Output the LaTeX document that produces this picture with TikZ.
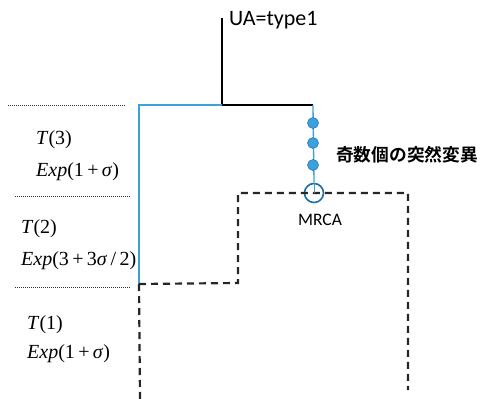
\documentclass[tikz,border=0pt]{standalone}
\usepackage{fontspec}
\setmainfont{Liberation Serif}
\newfontfamily\labfont{Carlito}
\newfontfamily\jpfont{Noto Sans CJK JP}[BoldFont={Noto Sans CJK JP Bold}]
\definecolor{lblue}{RGB}{60,160,220}
\definecolor{dblue}{RGB}{30,110,170}
\tikzset{
  dotline/.style={densely dotted, line width=1pt, black!80},
  dashline/.style={dash pattern=on 7pt off 5pt, line width=2.2pt, black!85},
  blueline/.style={lblue, line width=1.3pt},
  blkline/.style={black, line width=2.2pt},
  mut/.style={circle, fill=lblue, draw=dblue, line width=0.5pt, minimum size=11pt, inner sep=0pt},
  mrcacirc/.style={circle, draw=dblue, line width=1.6pt, minimum size=19pt, inner sep=0pt},
  tlab/.style={anchor=base west, font=\fontsize{20}{22}\selectfont, inner sep=0pt}
}
\begin{document}
\begin{tikzpicture}[x=1pt,y=-1pt]
\useasboundingbox (0,0) rectangle (480,399);
% coordinates
\coordinate (top) at (222,18);
\coordinate (root) at (222,105);
\coordinate (lb) at (139,105);
\coordinate (rb) at (313,105);
\coordinate (lend) at (139,284);
\coordinate (step1) at (238,283);
\coordinate (step2) at (238,193);
\coordinate (rstep) at (408,193);
\coordinate (rbot) at (408,390);
\coordinate (lbot) at (140,399);
% dotted separators
\coordinate (d1a) at (8,105); \coordinate (d1b) at (126,105);
\coordinate (d2a) at (15,196); \coordinate (d2b) at (130,196);
\coordinate (d3a) at (15,287); \coordinate (d3b) at (130,287);
\draw[dotline] (d1a) -- (d1b);
\draw[dotline] (d2a) -- (d2b);
\draw[dotline] (d3a) -- (d3b);
% MRCA
\node[mrcacirc] (mrca) at (314,193) {};
% tree
\draw[blkline] (top) -- (root) -- (rb);
\draw[blueline] (root) -- (lb) -- (lend);
\draw[blueline] (rb) -- (mrca.north);
% dashed lineage
\draw[dashline] (lend) -- (step1) -- (step2) -- (rstep) -- (rbot);
\draw[dashline] (lend) -- (lbot);
\draw[blueline, line width=0.8pt] (mrca.north) -- (mrca.center);
% mutations
\node[mut] (m1) at (313,123) {};
\node[mut] (m2) at (313,143) {};
\node[mut] (m3) at (313,165) {};
% labels
\node[anchor=base west, inner sep=0pt, font=\labfont\fontsize{22}{24}\selectfont] (ua) at (229,25) {UA=type1};
\node[anchor=base, inner sep=0pt, font=\labfont\fontsize{17.5}{19}\selectfont] (mrcalab) at (320,225) {MRCA};
\node[anchor=west, inner sep=0pt, font=\jpfont\bfseries\fontsize{17.7}{19}\selectfont] (jp) at (336,155) {奇数個の突然変異};
\node[tlab] (t3) at (36,144) {\textit{T}(3)};
\node[tlab] (e3) at (36,176) {\textit{Exp}(1\,+\,\textit{σ})};
\node[tlab] (t2) at (21,233) {\textit{T}(2)};
\node[tlab] (e2) at (21,265) {\textit{Exp}(3\,+\,3\textit{σ}\,/\,2)};
\node[tlab] (t1) at (27,329) {\textit{T}(1)};
\node[tlab] (e1) at (27,358) {\textit{Exp}(1\,+\,\textit{σ})};
\end{tikzpicture}
\end{document}
